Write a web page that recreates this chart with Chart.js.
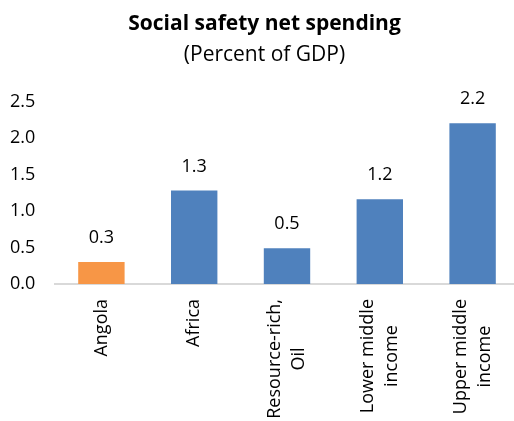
<!DOCTYPE html>
<html>
<head>
<meta charset="utf-8">
<script src="https://cdn.jsdelivr.net/npm/chart.js@4"></script>
<style>
  html, body { margin: 0; padding: 0; background: #fff; overflow: hidden; }
  #wrap { position: relative; width: 519px; height: 421px; }
</style>
</head>
<body>
<div id="wrap"><canvas id="chart"></canvas></div>
<script>
// Social safety net spending, percent of GDP
const categories = [
  ['Angola'],
  ['Africa'],
  ['Resource-rich,', 'Oil'],
  ['Lower middle', 'income'],
  ['Upper middle', 'income']
];
const spending = [0.30, 1.28, 0.49, 1.16, 2.20];
const barColors = ['#F79646', '#4F81BD', '#4F81BD', '#4F81BD', '#4F81BD'];
const yTicks = [0.0, 0.5, 1.0, 1.5, 2.0, 2.5];

const FONT = '"Open Sans", sans-serif';
const TEXT_SIZE = 18;
const TITLE_SIZE = 21;

// Value labels above each bar
const valueLabels = {
  id: 'valueLabels',
  afterDatasetsDraw(chart) {
    const ctx = chart.ctx;
    const meta = chart.getDatasetMeta(0);
    ctx.save();
    ctx.font = `${TEXT_SIZE}px ${FONT}`;
    ctx.fillStyle = '#000';
    ctx.textAlign = 'center';
    ctx.textBaseline = 'middle';
    meta.data.forEach((bar, i) => {
      const v = chart.data.datasets[0].data[i];
      ctx.fillText(v.toFixed(1), bar.x, bar.y - 24);
    });
    ctx.restore();
  }
};

// Vertical category labels, lines centred on the longest line
const categoryLabels = {
  id: 'categoryLabels',
  afterDraw(chart) {
    const ctx = chart.ctx;
    const xs = chart.scales.x;
    const top = chart.chartArea.bottom + 15;
    const lineH = 24;
    ctx.save();
    ctx.font = `${TEXT_SIZE}px ${FONT}`;
    ctx.fillStyle = '#000';
    ctx.textAlign = 'center';
    ctx.textBaseline = 'middle';
    categories.forEach((lines, i) => {
      const cx = xs.getPixelForTick(i);
      const maxW = Math.max(...lines.map(l => ctx.measureText(l).width));
      lines.forEach((line, j) => {
        const lx = cx + (j - (lines.length - 1) / 2) * lineH;
        ctx.save();
        ctx.translate(lx, top + maxW / 2);
        ctx.rotate(-Math.PI / 2);
        ctx.fillText(line, 0, 0);
        ctx.restore();
      });
    });
    ctx.restore();
  }
};

new Chart(document.getElementById('chart'), {
  type: 'bar',
  data: {
    labels: categories,
    datasets: [{
      data: spending,
      backgroundColor: barColors,
      borderWidth: 0,
      categoryPercentage: 1.0,
      barPercentage: 0.5
    }]
  },
  options: {
    responsive: true,
    maintainAspectRatio: false,
    animation: false,
    events: [],
    layout: { padding: { left: 10, right: 0, top: 0, bottom: 137 } },
    plugins: {
      legend: { display: false },
      tooltip: { enabled: false },
      title: {
        display: true,
        text: 'Social safety net spending',
        color: '#000',
        font: { family: FONT, size: TITLE_SIZE, weight: 'bold' },
        padding: { top: 11, bottom: 2 }
      },
      subtitle: {
        display: true,
        text: '(Percent of GDP)',
        color: '#000',
        font: { family: FONT, size: TITLE_SIZE },
        padding: { top: 4, bottom: 34 }
      }
    },
    scales: {
      x: {
        grid: { display: false, drawTicks: false },
        border: { display: true, color: '#D9D9D9', width: 2 },
        ticks: { display: false }
      },
      y: {
        min: 0,
        max: yTicks[yTicks.length - 1],
        grid: { display: false, drawTicks: false },
        border: { display: false },
        afterBuildTicks(scale) {
          scale.ticks = yTicks.map(v => ({ value: v }));
        },
        afterFit(scale) { scale.width = 45; },
        ticks: {
          crossAlign: 'far',
          color: '#000',
          font: { family: FONT, size: TEXT_SIZE },
          callback: v => Number(v).toFixed(1)
        }
      }
    }
  },
  plugins: [valueLabels, categoryLabels]
});
</script>
</body>
</html>
